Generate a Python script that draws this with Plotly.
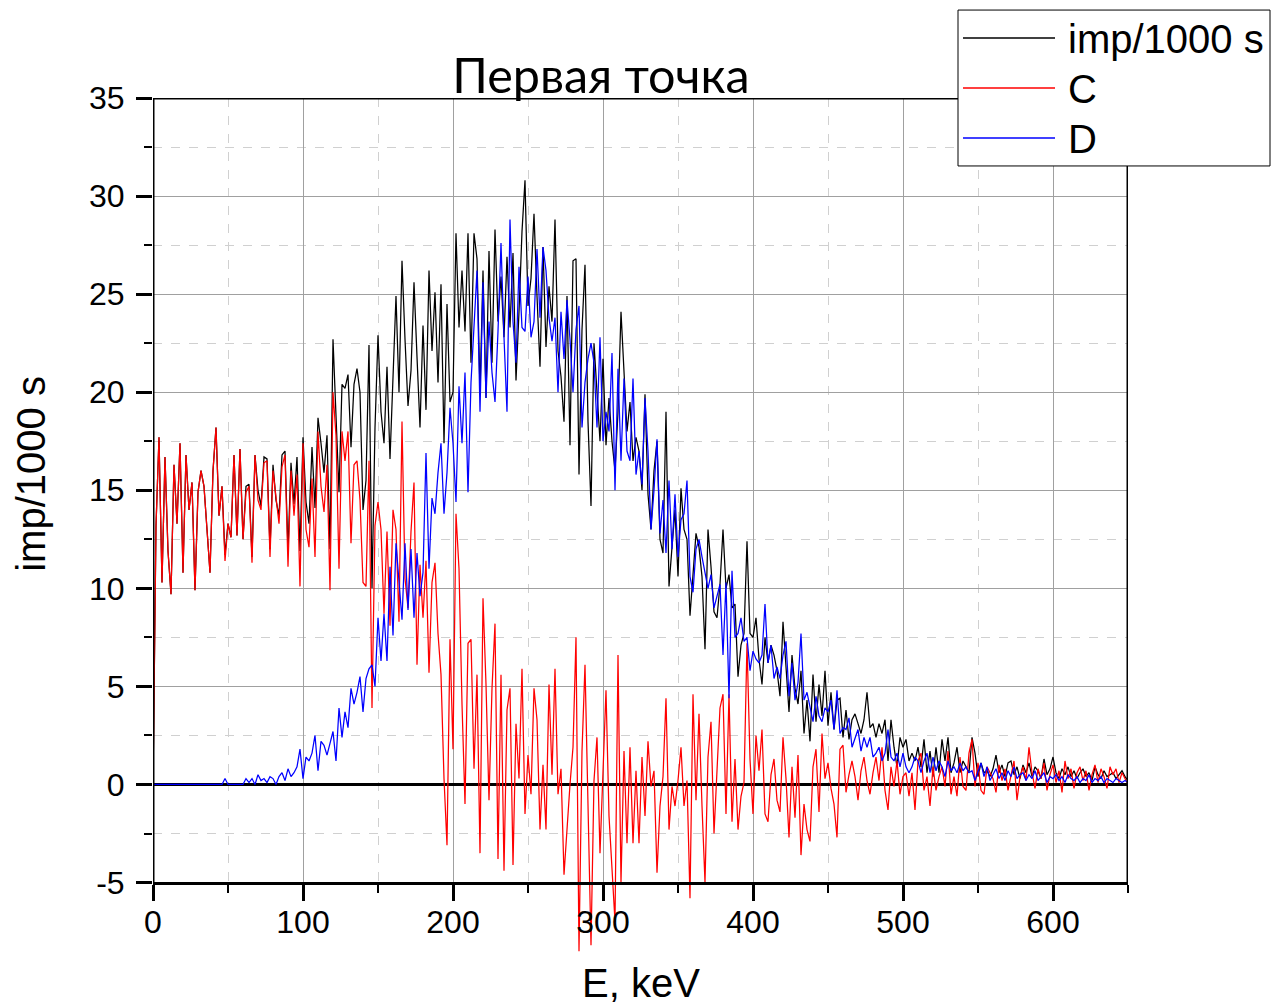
import plotly.graph_objects as go

# ---------------- data (2 keV sampling) ----------------
energy_kev = list(range(0, 651, 2))

imp_1000s = [
    0, 13.2, 17.7, 10.3, 16.7, 11.9, 9.7, 16.3, 13.3, 17.4,
    10.8, 16.8, 14.0, 15.4, 9.9, 14.9, 16.0, 15.2, 13.0, 10.8,
    16.0, 18.2, 13.7, 15.2, 11.7, 13.3, 12.6, 16.8, 12.7, 17.1,
    12.5, 15.2, 15.3, 11.6, 16.8, 15.0, 14.2, 16.7, 16.6, 12.0,
    16.3, 14.5, 13.7, 16.8, 17.0, 11.9, 16.4, 14.3, 16.7, 11.9,
    17.7, 14.4, 13.3, 17.2, 14.1, 18.7, 17.4, 15.9, 17.8, 12.0,
    22.7, 19.0, 14.9, 20.4, 20.2, 20.9, 17.2, 20.4, 21.2, 20.0,
    14.0, 15.5, 22.4, 10.0, 18.2, 22.9, 19.0, 17.4, 21.3, 16.6,
    21.0, 24.9, 20.0, 26.7, 22.7, 19.3, 21.1, 25.6, 21.8, 18.2,
    23.4, 19.1, 26.2, 22.1, 25.1, 20.5, 25.5, 17.4, 24.5, 19.5,
    20.0, 28.1, 23.3, 26.2, 23.1, 28.1, 21.5, 28.1, 26.8, 20.0,
    26.2, 19.7, 27.2, 21.5, 28.3, 23.6, 25.9, 22.8, 26.9, 23.3,
    27.1, 20.6, 24.1, 28.2, 30.8, 24.4, 25.8, 29.1, 24.9, 21.3,
    27.4, 22.3, 25.4, 23.6, 28.8, 22.1, 20.8, 18.5, 24.9, 17.3,
    26.7, 26.8, 15.8, 23.2, 26.5, 18.5, 14.2, 22.5, 20.0, 17.5,
    21.7, 17.3, 19.7, 17.5, 16.0, 19.0, 24.1, 21.0, 18.0, 19.5,
    16.5, 17.7, 17.0, 15.0, 19.9, 14.8, 13.0, 16.0, 17.5, 12.5,
    11.8, 19.0, 10.1, 12.1, 14.0, 10.6, 15.1, 13.0, 12.5, 8.6,
    10.8, 12.8, 12.1, 10.6, 6.9, 13.0, 11.1, 8.8, 8.5, 10.2,
    13.0, 10.0, 10.7, 9.0, 9.2, 5.5, 7.1, 7.7, 12.4, 7.7,
    7.5, 8.5, 6.4, 5.1, 7.5, 6.2, 7.1, 6.6, 5.8, 4.5,
    8.3, 6.2, 3.7, 6.6, 4.9, 4.1, 5.8, 2.6, 4.3, 2.2,
    5.6, 3.2, 5.1, 3.5, 5.8, 3.0, 4.7, 2.8, 4.3, 4.4,
    2.4, 3.8, 2.3, 3.3, 3.6, 3.1, 2.6, 3.3, 4.7, 2.9,
    3.1, 2.4, 3.1, 2.6, 3.3, 1.2, 3.3, 1.9, 0.9, 2.4,
    1.9, 2.3, 1.2, 1.6, 1.2, 1.9, 0.9, 2.3, 0.6, 1.7,
    0.4, 1.9, 0.6, 2.3, 1.2, 2.4, 0.6, 1.1, 1.9, 0.6,
    1.2, 0.9, 0.6, 2.4, 1.6, 0.4, 1.1, 0.6, 0.7, 0.4,
    0.8, 1.5, 0.6, 1.0, 0.4, 1.1, 1.2, 0.5, 0.9, 0.3,
    1.0, 0.6, 1.1, 0.4, 0.9, 0.7, 0.3, 1.3, 0.5, 0.8,
    1.4, 0.6, 0.3, 0.8, 0.5, 0.9, 0.4, 0.7, 0.3, 0.6,
    0.8, 0.4, 0.6, 0.2, 0.9, 0.5, 0.3, 0.7, 0.4, 0.5,
    0.6, 0.3, 0.5, 0.7, 0.4, 0.2,
]

c_values = [
    0, 13.2, 17.7, 10.3, 16.7, 11.9, 9.7, 16.3, 13.3, 17.4,
    10.8, 16.8, 14.0, 15.4, 9.9, 14.9, 16.0, 15.2, 13.0, 10.8,
    16.0, 18.2, 13.7, 15.2, 11.4, 13.3, 12.6, 16.8, 12.7, 17.1,
    12.5, 14.9, 15.2, 11.3, 16.8, 14.5, 14.0, 16.4, 16.5, 11.6,
    16.0, 14.5, 13.3, 16.2, 16.8, 11.1, 16.0, 13.7, 15.8, 10.1,
    17.4, 13.0, 12.1, 15.6, 11.6, 18.0, 15.2, 13.9, 16.3, 9.9,
    20.0, 17.8, 11.0, 18.0, 16.5, 18.0, 12.3, 16.3, 16.5, 14.5,
    10.3, 10.1, 16.5, 3.9, 13.2, 14.4, 13.0, 8.7, 12.9, 8.1,
    14.0, 13.0, 8.3, 18.5, 10.5, 9.0, 12.9, 15.4, 6.1, 11.2,
    8.5, 11.4, 5.7, 10.3, 11.3, 7.7, 5.6, 0.3, -3.1, 7.4,
    1.8, 13.8, 11.0, 4.1, -1.0, 7.2, 7.4, 0.8, 5.6, -3.5,
    9.5, 5.1, -0.8, 4.9, 8.2, -3.8, 5.6, -4.4, 3.8, 4.9,
    -4.1, 3.1, 0.3, 5.9, -1.5, 1.5, -0.5, 4.9, 3.3, -2.3,
    1.0, -2.3, 5.1, 0.5, 5.9, -0.5, 0.8, -4.6, -2.1, 0.0,
    1.9, 7.5, -8.5, 1.7, 6.1, -1.1, -8.2, 0.2, 2.4, -3.5,
    0.2, 4.8, -1.6, -4.5, -7.0, 6.6, -5.0, 1.7, -3.0, 1.9,
    -3.0, 0.7, -3.0, 1.4, -1.6, 2.2, -0.1, 0.7, -4.5, -1.1,
    0.4, 4.4, -2.3, -0.1, -1.1, 0.2, 1.9, -1.1, 0.2, -5.8,
    4.6, -0.8, 3.6, -1.1, -5.0, 1.4, 3.2, -2.5, 0.5, 3.9,
    4.6, -1.5, 4.6, -1.9, 1.3, -2.3, -0.6, 0.1, 7.2, 1.3,
    -1.5, 2.5, 0.7, 2.8, -1.5, -1.9, 0.5, 1.3, -0.8, -1.4,
    2.4, 0.3, -2.7, 0.9, -1.7, 1.5, -3.6, -1.0, -2.3, -2.9,
    0.9, 1.8, -1.4, 2.6, 0.3, 1.1, -0.2, -1.0, -2.7, 1.8,
    2.0, -0.4, 0.5, 1.2, 0.4, -0.8, 0.7, 1.4, 0.2, -0.5,
    0.6, 1.4, 0.2, 1.9, -0.3, -1.3, 0.9, -0.1, 1.2, -0.5,
    0.4, 0.6, -0.6, 0.6, -1.3, 1.2, 1.6, -0.3, 0.4, -1.1,
    0.9, -0.3, 0.4, 0.9, -0.1, 1.7, -0.5, 0.4, -0.6, 1.4,
    -0.1, -0.3, 1.6, 2.3, -0.1, 1.1, -0.3, -0.5, 0.9, 0.6,
    0.3, -0.4, 1.0, 0.2, 0.8, -0.3, 0.5, 1.2, -0.8, 0.4,
    0.9, 0.2, 1.9, 0.6, -0.2, 0.8, 0.3, 1.1, -0.3, 0.5,
    1.0, 0.1, 0.7, -0.4, 1.2, 0.3, 0.8, -0.2, 0.6, 0.9,
    0.2, 0.7, -0.3, 0.5, 1.0, 0.1, 0.8, 0.4, -0.2, 0.9,
    0.5, 0.8, 0.1, 0.6, 0.3, 0.0,
]

d_values = [
    0, 0, 0, 0, 0, 0, 0, 0, 0, 0,
    0, 0, 0, 0, 0, 0, 0, 0, 0, 0,
    0, 0, 0, 0, 0.3, 0, 0, 0, 0, 0,
    0, 0.3, 0.1, 0.3, 0.0, 0.5, 0.2, 0.3, 0.1, 0.4,
    0.3, 0.0, 0.4, 0.6, 0.2, 0.8, 0.4, 0.6, 0.9, 1.8,
    0.3, 1.4, 1.2, 1.6, 2.5, 0.7, 2.2, 2.0, 1.5, 2.1,
    2.7, 1.2, 3.9, 2.4, 3.7, 2.9, 4.9, 4.1, 4.7, 5.5,
    3.7, 5.4, 5.9, 6.1, 5.0, 8.5, 6.3, 8.7, 6.3, 11.1,
    7.6, 12.3, 10.3, 8.4, 12.3, 8.9, 12.0, 8.5, 11.8, 9.6,
    10.8, 16.9, 11.0, 14.6, 13.8, 15.9, 17.4, 13.8, 15.9, 19.2,
    17.4, 14.4, 20.3, 17.4, 21.0, 14.9, 20.5, 23.6, 26.2, 19.0,
    25.6, 19.7, 23.6, 21.0, 19.5, 23.1, 27.6, 22.8, 19.0, 28.8,
    23.6, 21.5, 26.4, 23.3, 23.1, 25.9, 22.8, 23.6, 27.3, 23.8,
    27.4, 26.2, 23.8, 22.6, 23.8, 20.0, 24.1, 21.7, 24.7, 22.7,
    20.0, 23.2, 24.4, 18.2, 20.5, 21.7, 22.5, 21.5, 18.2, 22.8,
    17.5, 19.0, 18.0, 22.0, 15.0, 21.2, 16.5, 20.7, 17.0, 16.5,
    20.7, 15.8, 17.0, 15.3, 19.7, 17.0, 13.0, 15.0, 17.6, 12.8,
    14.5, 11.8, 15.5, 12.0, 14.8, 11.6, 13.5, 13.8, 15.5, 10.6,
    9.8, 12.0, 12.5, 11.6, 10.7, 10.0, 10.7, 9.0, 9.6, 10.2,
    6.6, 10.3, 4.4, 10.9, 7.5, 7.7, 8.5, 7.3, 7.5, 5.8,
    6.8, 6.4, 6.2, 6.6, 9.2, 6.2, 7.1, 5.4, 6.0, 5.4,
    6.6, 7.3, 4.5, 6.2, 4.3, 5.2, 7.7, 4.3, 4.7, 3.9,
    3.2, 4.5, 3.5, 3.2, 3.9, 3.7, 4.3, 2.8, 4.8, 2.6,
    2.9, 2.8, 3.4, 1.9, 2.4, 2.8, 1.7, 2.4, 1.9, 2.4,
    1.4, 1.6, 1.9, 1.2, 1.6, 2.8, 1.4, 1.2, 1.6, 0.9,
    1.6, 0.9, 0.6, 0.9, 1.4, 1.2, 0.6, 1.2, 1.6, 0.6,
    1.4, 0.7, 1.2, 0.9, 0.4, 1.2, 0.7, 0.9, 0.6, 1.1,
    0.7, 0.9, 0.6, 0.7, 0.2, 0.6, 1.1, 0.4, 0.9, 0.2,
    0.5, 0.8, 0.3, 0.6, 0.2, 0.7, 0.4, 0.9, 0.3, 0.5,
    0.6, 0.2, 0.5, 0.3, 0.7, 0.2, 0.4, 0.6, 0.1, 0.4,
    0.3, 0.5, 0.2, 0.4, 0.1, 0.5, 0.3, 0.2, 0.4, 0.1,
    0.3, 0.2, 0.5, 0.1, 0.3, 0.2, 0.4, 0.1, 0.3, 0.2,
    0.1, 0.3, 0.2, 0.1, 0.2, 0.1,
]

series_names = ["imp/1000 s", "C", "D"]
series_colors = ["#000000", "#ff0000", "#0000ff"]
x_tick_values = [0, 100, 200, 300, 400, 500, 600]
y_tick_values = [-5, 0, 5, 10, 15, 20, 25, 30, 35]
y_tick_labels = ["-5", "0", "5", "10", "15", "20", "25", "30", "35"]
y_minor_values = [-2.5, 2.5, 7.5, 12.5, 17.5, 22.5, 27.5, 32.5]

# ---------------- layout geometry ----------------
W, H = 1274, 1005
L, R, T, B = 153, 146, 98, 43.5
Y_LO, Y_HI = -9, 35          # extra room below -5 so deep spikes overflow like the original
X_LO, X_HI = 0, 650
PW, PH = W - L - R, H - T - B


def px_x(px):
    return (px - L) / PW


def px_y(py):
    return (H - B - py) / PH


fig = go.Figure()
for name, ys, col in zip(series_names, [imp_1000s, c_values, d_values], series_colors):
    fig.add_trace(go.Scatter(x=energy_kev, y=ys, mode="lines", name=name,
                             line=dict(color=col, width=1.25), showlegend=False))

AX_FONT = dict(family="Liberation Sans, Arial, sans-serif", size=32, color="black")
fig.update_layout(
    width=W, height=H,
    margin=dict(l=L, r=R, t=T, b=B, autoexpand=False),
    paper_bgcolor="white", plot_bgcolor="white",
    title=dict(text="Первая точка", x=601 / W, xanchor="center",
               y=1 - 76 / H, yanchor="middle",
               font=dict(family="Lato, Noto Sans, sans-serif", size=48.5, color="black")),
    xaxis=dict(range=[X_LO, X_HI], tickmode="array", tickvals=x_tick_values,
               ticks="outside", ticklen=16, tickwidth=2.5, tickcolor="black",
               ticklabelstandoff=-6,
               showline=True, linewidth=3, linecolor="black",
               anchor="free", position=(-5 - Y_LO) / (Y_HI - Y_LO),
               showgrid=True, gridcolor="#a0a0a0", gridwidth=1,
               zeroline=False, tickfont=AX_FONT,
               minor=dict(dtick=50, tick0=0, ticks="outside", ticklen=8, tickwidth=2,
                          tickcolor="black", showgrid=True, gridcolor="#d0d0d0",
                          griddash="dash", gridwidth=1)),
    yaxis=dict(range=[Y_LO, Y_HI], tickmode="array", tickvals=y_tick_values,
               ticktext=y_tick_labels, ticklabelstandoff=5,
               ticks="outside", ticklen=16, tickwidth=2.5, tickcolor="black",
               showline=False, showgrid=True, gridcolor="#a0a0a0", gridwidth=1,
               zeroline=True, zerolinecolor="black", zerolinewidth=3,
               tickfont=AX_FONT,
               minor=dict(tickmode="array", tickvals=y_minor_values, ticks="outside",
                          ticklen=8, tickwidth=2, tickcolor="black", showgrid=True,
                          gridcolor="#d0d0d0", griddash="dash", gridwidth=1)),
)

shapes = [
    # hide grid below the -5 baseline (data may still overflow there)
    dict(type="rect", xref="x", yref="y", x0=X_LO, x1=X_HI, y0=Y_LO - 1, y1=-5.05,
         fillcolor="white", line=dict(width=0), layer="between"),
    # frame
    dict(type="line", xref="x", yref="y", x0=X_LO, x1=X_LO, y0=-5, y1=35,
         line=dict(color="black", width=3), layer="above"),
    dict(type="line", xref="x", yref="y", x0=X_HI, x1=X_HI, y0=-5, y1=35,
         line=dict(color="black", width=3), layer="above"),
    dict(type="line", xref="x", yref="y", x0=X_LO, x1=X_HI, y0=35, y1=35,
         line=dict(color="black", width=3), layer="above"),
    # legend box
    dict(type="rect", xref="paper", yref="paper", x0=px_x(958), x1=px_x(1270),
         y0=px_y(166), y1=px_y(10), fillcolor="white",
         line=dict(color="black", width=1), layer="above"),
]
legend_rows_px = [38, 88, 138]
for col, ry in zip(series_colors, legend_rows_px):
    shapes.append(dict(type="line", xref="paper", yref="paper",
                       x0=px_x(963), x1=px_x(1055), y0=px_y(ry), y1=px_y(ry),
                       line=dict(color=col, width=1.5), layer="above"))
fig.update_layout(shapes=shapes)

LEG_FONT = dict(family="Liberation Sans, Arial, sans-serif", size=40, color="black")
annotations = []
for name, ry in zip(series_names, legend_rows_px):
    annotations.append(dict(text=name, xref="paper", yref="paper", x=px_x(1066),
                            y=px_y(ry + 1), xanchor="left", yanchor="middle",
                            showarrow=False, font=LEG_FONT))
annotations.append(dict(text="E, keV", xref="paper", yref="paper", x=px_x(641),
                        y=px_y(984), xanchor="center", yanchor="middle",
                        showarrow=False, font=LEG_FONT))
annotations.append(dict(text="imp/1000 s", xref="paper", yref="paper", x=px_x(31),
                        y=px_y(474), xanchor="center", yanchor="middle",
                        textangle=-90, showarrow=False, font=LEG_FONT))
fig.update_layout(annotations=annotations)

fig.write_html("out.html",
               config={"displayModeBar": False},
               post_script="document.body.style.margin='0px';"
                           "document.body.style.overflow='hidden';")
